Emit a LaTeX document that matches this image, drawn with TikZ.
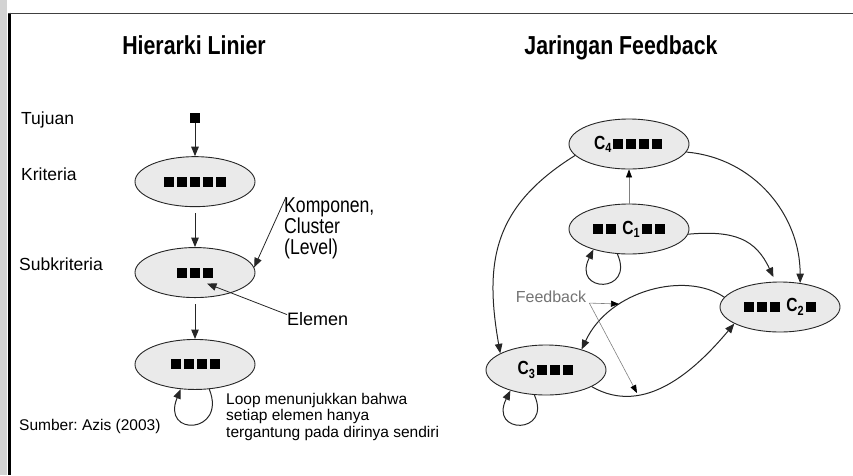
\documentclass[tikz,border=0pt]{standalone}
\usepackage{fontspec}
\setmainfont{Liberation Sans}
\newfontfamily\narrowfont[FakeStretch=0.82]{Liberation Sans}
\usetikzlibrary{arrows.meta,positioning,shapes.geometric,calc}
\definecolor{clusterfill}{HTML}{EAEAEA}
\definecolor{margingray}{HTML}{D3D3D3}
\newcommand{\elm}{\kern1.5pt\rule{10pt}{10pt}\kern1.5pt}
\newcommand{\fsize}[1]{\fontsize{#1}{#1}\selectfont}
\frenchspacing

\begin{document}
\begin{tikzpicture}[
    x=1pt, y=-1pt,
    cluster/.style={
      ellipse,
      draw=black!85,
      line width=0.9pt,
      fill=clusterfill,
      minimum width=120pt,
      minimum height=50pt,
      inner sep=0pt,
      font=\narrowfont\bfseries\fsize{19}
    },
    arrow/.style={
      -{Triangle[length=9.5pt,width=7.5pt]},
      line width=1pt,
      black!85
    },
    thinarrow/.style={
      -{Triangle[length=8pt,width=6pt,color=black]},
      line width=0.6pt,
      black!50
    },
    title/.style={anchor=base, font=\narrowfont\bfseries\fsize{26}},
    lbl/.style={anchor=base west, inner sep=0pt, font=\fsize{17.5}},
    note/.style={anchor=north west, inner sep=0pt, align=left}
  ]

  \useasboundingbox (0,0) rectangle (853,475);

  % page margin and frame
  \fill[margingray] (0,0) rectangle (7,475);
  \draw[line width=2.6pt] (9.5,12.5) -- (9.5,475);
  \draw[line width=1.6pt, black!75] (8.2,13.5) -- (853,13.5);

  \node[title] (judulkiri) at (194,54) {Hierarki Linier};
  \node[title] (judulkanan) at (621,54) {Jaringan Feedback};

  % hierarki linier
  \node[fill=black, minimum size=10pt, inner sep=0pt] (tujuan) at (195,118) {};
  \node[cluster, below=33pt of tujuan] (kriteria) {\elm\elm\elm\elm\elm};
  \node[cluster, below=40pt of kriteria] (subkriteria) {\elm\elm\elm};
  \node[cluster, below=41pt of subkriteria] (alternatif) {\elm\elm\elm\elm};

  \node[lbl] (lbltujuan) at (21,124) {Tujuan};
  \node[lbl] (lblkriteria) at (21,180) {Kriteria};
  \node[lbl] (lblsub) at (19,270) {Subkriteria};
  \node[lbl, font=\fsize{15.5}] (sumber) at (19,430) {Sumber: Azis (2003)};

  \node[note, font=\narrowfont\fontsize{21.5}{21}\selectfont] (komponen) at (284,197) {Komponen,\\Cluster\\(Level)};
  \node[lbl, font=\fsize{18}] (elemen) at (287,325) {Elemen};
  \node[note, font=\fontsize{15.5}{16.5}\selectfont] (ket) at (226,393) {Loop menunjukkan bahwa\\setiap elemen hanya\\tergantung pada dirinya sendiri};

  \draw[arrow] (tujuan) -- (kriteria);
  \draw[arrow, shorten <=6pt] (kriteria) -- (subkriteria);
  \draw[arrow, shorten <=6pt] (subkriteria) -- (alternatif);
  \draw[arrow, line width=0.8pt] ([xshift=2pt]komponen.north west) -- (subkriteria.5);
  \coordinate (elmtarget) at ($(subkriteria.center)+(12,11)$);
  \draw[arrow, line width=0.8pt] ([yshift=4pt]elemen.west) -- (elmtarget);
  \draw[arrow] (alternatif.300) .. controls +(18,45) and +(-20,48) .. (alternatif.240);

  % jaringan feedback
  \node[cluster] (c4) at (629,144) {C\textsubscript{4}\elm\elm\elm\elm};
  \node[cluster] (c1) at (629,229) {\elm\elm\ C\textsubscript{1}\elm\elm};
  \node[cluster] (c2) at (780,307) {\elm\elm\elm\ C\textsubscript{2}\elm};
  \node[cluster] (c3) at (546,370) {C\textsubscript{3}\elm\elm\elm};

  \draw[thinarrow] (c1) -- (c4);
  \draw[arrow] (c1.245) .. controls +(18,40) and +(-22,44) .. (c1.210);
  \draw[arrow] (c3.245) .. controls +(18,40) and +(-22,44) .. (c3.210);
  \draw[arrow] (c4.192) to[out=212, in=100, looseness=1.15] (c3.160);
  \draw[arrow] (c4.-8) to[out=-5, in=90] (c2.50);
  \draw[arrow, shorten >=5pt] (c1.-5) to[out=5, in=115, looseness=1.2] (c2.100);
  \draw[arrow] (c2.170) .. controls +(-38,-26) and +(28,-60) .. (c3.30);
  \draw[arrow] (c3.-20) to[out=-30, in=-130] (c2.200);

  \node[inner sep=0pt, font=\fsize{16}, text=black!55] (feedback) at (551,297) {Feedback};
  \coordinate (fbsrc) at ($(feedback.south east)+(3,0)$);
  \coordinate (fbup) at (619,304);
  \coordinate (fbdown) at (637,393);
  \draw[thinarrow] (fbsrc) -- (fbup);
  \draw[thinarrow] (fbsrc) -- (fbdown);

\end{tikzpicture}
\end{document}
